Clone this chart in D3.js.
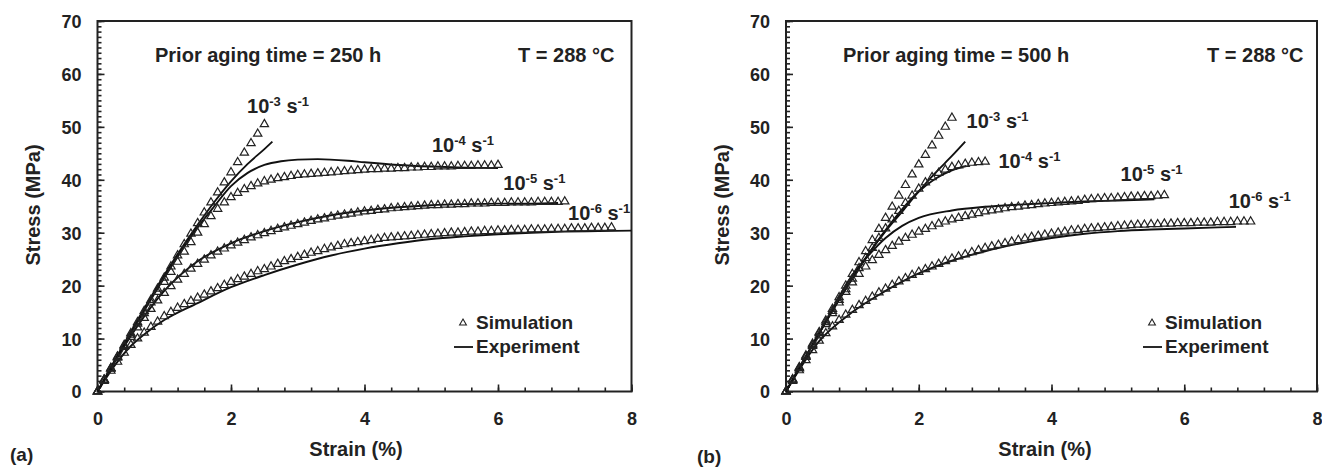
<!DOCTYPE html>
<html>
<head>
<meta charset="utf-8">
<script src="https://cdn.jsdelivr.net/npm/d3@7"></script>
<style>
body { margin: 0; background: #fff; }
text { font-family: "Liberation Sans", Arial, sans-serif; font-weight: bold; fill: #222; }
</style>
</head>
<body>
<svg id="chart" width="1322" height="469"></svg>
<script>
// tick labels
const xTicks = [0, 2, 4, 6, 8]
const yTicks = [0, 10, 20, 30, 40, 50, 60, 70]
const rateExp = ["-3", "-4", "-5", "-6"]

// simulation: stress (MPa) sampled every 0.1 % strain, starting at 0
const simStep = 0.1

// 250 h
const sim250_3 = [0, 2.2, 4.4, 6.6, 8.8, 11.0, 13.1, 15.2, 17.3, 19.4, 21.5, 23.6, 25.7, 27.8, 29.8, 31.8, 33.8, 35.7, 37.6, 39.5, 41.4, 43.3, 45.1, 46.9, 48.7, 50.5]
const sim250_4 = [0, 2.2, 4.4, 6.5, 8.6, 10.7, 12.8, 14.8, 16.8, 18.8, 20.7, 22.6, 24.5, 26.4, 28.2, 30.0, 31.6, 33.1, 34.5, 35.7,
    36.7, 37.5, 38.2, 38.8, 39.3, 39.7, 40.0, 40.3, 40.5, 40.7, 40.9, 41.0, 41.1, 41.2, 41.3, 41.4, 41.5, 41.6, 41.7, 41.8,
    41.9, 42.0, 42.0, 42.1, 42.1, 42.2, 42.2, 42.3, 42.3, 42.4, 42.4, 42.5, 42.5, 42.5, 42.6, 42.6, 42.6, 42.7, 42.7, 42.7, 42.8]
const sim250_5 = [0, 2.2, 4.3, 6.4, 8.4, 10.3, 12.1, 13.9, 15.6, 17.2, 18.6, 19.9, 21.1, 22.2, 23.2, 24.1, 24.9, 25.7, 26.4, 27.0,
    27.6, 28.1, 28.6, 29.1, 29.5, 29.9, 30.3, 30.7, 31.0, 31.3, 31.6, 31.9, 32.2, 32.5, 32.7, 33.0, 33.2, 33.4, 33.6, 33.8,
    34.0, 34.1, 34.3, 34.4, 34.6, 34.7, 34.8, 34.9, 35.0, 35.1, 35.2, 35.2, 35.3, 35.3, 35.4, 35.4, 35.5, 35.5, 35.5, 35.6,
    35.6, 35.6, 35.7, 35.7, 35.7, 35.7, 35.8, 35.8, 35.8, 35.8, 35.9]
const sim250_6 = [0, 2.0, 3.9, 5.6, 7.3, 8.8, 10.0, 11.1, 12.2, 13.2, 14.2, 15.0, 15.8, 16.5, 17.1, 17.7, 18.3, 18.9, 19.5, 20.1,
    20.7, 21.2, 21.7, 22.2, 22.7, 23.1, 23.6, 24.1, 24.6, 25.0, 25.4, 25.8, 26.2, 26.5, 26.9, 27.2, 27.5, 27.8, 28.0, 28.2,
    28.4, 28.6, 28.8, 29.0, 29.1, 29.2, 29.3, 29.4, 29.5, 29.6, 29.7, 29.8, 29.9, 30.0, 30.0, 30.1, 30.2, 30.2, 30.3, 30.3,
    30.4, 30.4, 30.5, 30.5, 30.5, 30.6, 30.6, 30.6, 30.7, 30.7, 30.7, 30.8, 30.8, 30.8, 30.9, 30.9, 30.9, 31.0]
// experiment: [strain %, stress MPa]
const exp250_3 = [[0, 0], [0.5, 11.3], [1.0, 22.0], [1.5, 31.5], [1.75, 35.8], [2.0, 39.7], [2.25, 43.0], [2.5, 45.8], [2.62, 47.2]]
const exp250_4 = [[0, 0], [0.5, 11.0], [1.0, 21.5], [1.5, 31.0], [1.75, 35.0], [2.0, 38.8], [2.25, 41.3], [2.5, 42.8], [2.75, 43.5],
    [3.0, 43.8], [3.3, 43.9], [3.75, 43.6], [4.0, 43.3], [4.5, 42.8], [5.0, 42.5], [5.5, 42.3], [6.0, 42.2]]
const exp250_5 = [[0, 0], [0.5, 10.5], [1.0, 19.0], [1.5, 24.6], [2.0, 28.0], [2.5, 30.3], [3.0, 32.0], [3.5, 33.3], [4.0, 34.2],
    [4.5, 34.8], [5.0, 35.2], [5.5, 35.4], [6.0, 35.5], [6.5, 35.5], [6.9, 35.6]]
const exp250_6 = [[0, 0], [0.25, 4.8], [0.5, 8.6], [0.75, 11.3], [1.0, 13.5], [1.5, 16.7], [2.0, 19.7], [2.5, 22.0], [3.0, 24.0],
    [3.5, 25.7], [4.0, 27.0], [4.5, 28.0], [5.0, 28.8], [5.5, 29.3], [6.0, 29.7], [6.5, 30.0], [7.0, 30.2], [7.5, 30.3], [8.0, 30.4]]

// 500 h
const sim500_3 = [0, 2.3, 4.6, 6.8, 9.0, 11.2, 13.4, 15.6, 17.8, 20.0, 22.2, 24.4, 26.5, 28.6, 30.7, 32.8, 34.9, 37.0, 39.0, 41.0, 42.9, 44.7, 46.5, 48.3, 50.0, 51.7]
const sim500_4 = [0, 2.2, 4.4, 6.6, 8.8, 11.0, 13.1, 15.2, 17.3, 19.3, 21.3, 23.3, 25.2, 27.1, 29.0, 30.8, 32.5, 34.1, 35.6, 37.0,
    38.3, 39.5, 40.5, 41.3, 41.9, 42.4, 42.7, 43.0, 43.2, 43.3, 43.4]
const sim500_5 = [0, 2.2, 4.4, 6.5, 8.6, 10.6, 12.7, 14.8, 16.8, 18.8, 20.6, 22.2, 23.6, 24.8, 25.8, 26.7, 27.5, 28.3, 29.0, 29.6,
    30.2, 30.7, 31.2, 31.7, 32.1, 32.5, 32.8, 33.1, 33.4, 33.7, 34.0, 34.2, 34.4, 34.6, 34.8, 34.9, 35.1, 35.2, 35.4, 35.5,
    35.6, 35.7, 35.8, 35.9, 36.0, 36.2, 36.3, 36.4, 36.5, 36.5, 36.6, 36.7, 36.8, 36.8, 36.9, 36.9, 37.0, 37.1]
const sim500_6 = [0, 2.0, 4.0, 5.9, 7.8, 9.6, 11.0, 12.3, 13.5, 14.5, 15.4, 16.3, 17.1, 17.9, 18.7, 19.4, 20.1, 20.8, 21.4, 22.0,
    22.6, 23.1, 23.6, 24.1, 24.6, 25.1, 25.5, 25.9, 26.3, 26.7, 27.1, 27.4, 27.7, 28.0, 28.3, 28.6, 28.9, 29.2, 29.4, 29.6,
    29.8, 30.0, 30.2, 30.4, 30.5, 30.7, 30.8, 30.9, 31.0, 31.1, 31.2, 31.3, 31.4, 31.5, 31.5, 31.6, 31.6, 31.7, 31.7, 31.8,
    31.8, 31.8, 31.9, 31.9, 31.9, 32.0, 32.0, 32.0, 32.1, 32.1, 32.1]
const exp500_3 = [[0, 0], [0.5, 11.0], [1.0, 21.5], [1.5, 30.3], [1.75, 34.0], [2.0, 37.8], [2.25, 41.3], [2.5, 44.5], [2.7, 47.2]]
const exp500_4 = [[0, 0], [0.5, 11.0], [1.0, 21.3], [1.5, 30.5], [2.0, 37.8], [2.25, 40.2], [2.5, 41.8], [2.72, 42.6]]
const exp500_5 = [[0, 0], [0.5, 11.0], [1.0, 22.0], [1.25, 25.8], [1.5, 29.0], [1.75, 31.3], [2.0, 32.8], [2.5, 34.2], [3.0, 34.9],
    [3.5, 35.3], [4.0, 35.6], [4.5, 35.9], [5.0, 36.1], [5.55, 36.3]]
const exp500_6 = [[0, 0], [0.5, 9.5], [1.0, 15.0], [1.5, 19.0], [2.0, 22.3], [2.5, 24.7], [3.0, 26.5], [3.5, 27.9], [4.0, 29.0],
    [4.5, 29.8], [5.0, 30.3], [5.5, 30.6], [6.0, 30.8], [6.5, 31.0], [6.78, 31.1]]

const panels = [
    {
        tag: "(a)", title: "Prior aging time = 250 h",
        sim: [sim250_3, sim250_4, sim250_5, sim250_6],
        exp: [exp250_3, exp250_4, exp250_5, exp250_6],
        // layout
        left: 97.5, right: 631.5, top: 21, bottom: 391.5,
        titleX: 155, tempX: 518, tagX: 10, tagY: 461,
        yTitleX: 40, xTitleX: 356,
        rateAt: [[2.24, 52.6], [5.01, 45.2], [6.08, 38.1], [7.05, 32.4]],
        legX: 463
    },
    {
        tag: "(b)", title: "Prior aging time = 500 h",
        sim: [sim500_3, sim500_4, sim500_5, sim500_6],
        exp: [exp500_3, exp500_4, exp500_5, exp500_6],
        left: 786, right: 1317, top: 21, bottom: 391.5,
        titleX: 843, tempX: 1207, tagX: 697, tagY: 463,
        yTitleX: 729, xTitleX: 1045,
        rateAt: [[2.72, 49.8], [3.2, 42.2], [5.04, 39.7], [6.67, 34.7]],
        legX: 1152
    }
]

const svg = d3.select("#chart")
const tri = d3.symbol().type(d3.symbolTriangle).size(30)
const triSmall = d3.symbol().type(d3.symbolTriangle).size(20)

panels.forEach((p, pi) => {
    const x = d3.scaleLinear().domain([0, 8]).range([p.left, p.right])
    const y = d3.scaleLinear().domain([0, 70]).range([p.bottom, p.top])
    const g = svg.append("g")

    g.append("clipPath").attr("id", "clip" + pi)
        .append("rect")
        .attr("x", p.left).attr("y", p.top)
        .attr("width", p.right - p.left).attr("height", p.bottom - p.top)

    // minor ticks
    g.append("g")
        .attr("transform", `translate(0,${p.bottom})`)
        .call(d3.axisBottom(x).tickValues(d3.range(0, 8.01, 0.4)).tickSize(-4).tickSizeOuter(0).tickFormat(""))
        .call(a => a.select(".domain").remove())
    g.append("g")
        .attr("transform", `translate(${p.left},0)`)
        .call(d3.axisLeft(y).tickValues(d3.range(0, 70.5, 1)).tickSize(-4).tickSizeOuter(0).tickFormat(""))
        .call(a => a.select(".domain").remove())

    // major ticks with labels
    const xa = g.append("g")
        .attr("transform", `translate(0,${p.bottom})`)
        .call(d3.axisBottom(x).tickValues(xTicks).tickSize(-7).tickSizeOuter(0).tickPadding(21).tickFormat(d3.format("d")))
    const ya = g.append("g")
        .attr("transform", `translate(${p.left},0)`)
        .call(d3.axisLeft(y).tickValues(yTicks).tickSize(-7).tickSizeOuter(0).tickPadding(16).tickFormat(d3.format("d")))
    ;[xa, ya].forEach(a => {
        a.select(".domain").remove()
        a.selectAll("text").attr("font-size", 18).attr("font-family", null).attr("fill", "#222")
    })
    ya.selectAll("text").attr("dy", "0.36em")
    g.selectAll(".tick line").attr("stroke", "#222").attr("stroke-width", 1.6)

    // frame
    g.append("rect")
        .attr("x", p.left).attr("y", p.top)
        .attr("width", p.right - p.left).attr("height", p.bottom - p.top)
        .attr("fill", "none").attr("stroke", "#222").attr("stroke-width", 2)

    const plot = g.append("g").attr("clip-path", `url(#clip${pi})`)

    // experiment lines
    const line = d3.line().x(d => x(d[0])).y(d => y(d[1])).curve(d3.curveMonotoneX)
    p.exp.forEach(e => {
        plot.append("path").datum(e)
            .attr("d", line)
            .attr("fill", "none").attr("stroke", "#111").attr("stroke-width", 1.9)
    })

    // simulation triangles
    p.sim.forEach(s => {
        g.append("g").selectAll("path")
            .data(s)
            .join("path")
            .attr("d", tri)
            .attr("transform", (d, i) => `translate(${x(i * simStep)},${y(d)})`)
            .attr("fill", "none").attr("stroke", "#222").attr("stroke-width", 1.2)
    })

    // rate labels
    p.rateAt.forEach((r, i) => {
        const t = g.append("text")
            .attr("x", x(r[0])).attr("y", y(r[1]))
            .attr("font-size", 20)
        t.append("tspan").text("10")
        t.append("tspan").attr("font-size", 13).attr("dy", -7).text(rateExp[i])
        t.append("tspan").attr("dy", 7).text(" s")
        t.append("tspan").attr("font-size", 13).attr("dy", -7).text("-1")
    })

    // titles
    g.append("text").attr("x", p.titleX).attr("y", 62).attr("font-size", 20).text(p.title)
    g.append("text").attr("x", p.tempX).attr("y", 62).attr("font-size", 20).text("T = 288 °C")
    g.append("text").attr("x", p.xTitleX).attr("y", 456).attr("font-size", 20)
        .attr("text-anchor", "middle").text("Strain (%)")
    g.append("text").attr("transform", `translate(${p.yTitleX},205) rotate(-90)`)
        .attr("font-size", 20).attr("text-anchor", "middle").text("Stress (MPa)")
    g.append("text").attr("x", p.tagX).attr("y", p.tagY).attr("font-size", 19).text(p.tag)

    // legend
    g.append("path").attr("d", triSmall)
        .attr("transform", `translate(${p.legX},${323})`)
        .attr("fill", "none").attr("stroke", "#222").attr("stroke-width", 1.1)
    g.append("text").attr("x", p.legX + 13).attr("y", 329).attr("font-size", 19).text("Simulation")
    g.append("line")
        .attr("x1", p.legX - 9).attr("x2", p.legX + 10).attr("y1", 347).attr("y2", 347)
        .attr("stroke", "#111").attr("stroke-width", 1.8)
    g.append("text").attr("x", p.legX + 13).attr("y", 353).attr("font-size", 19).text("Experiment")
})
</script>
</body>
</html>
